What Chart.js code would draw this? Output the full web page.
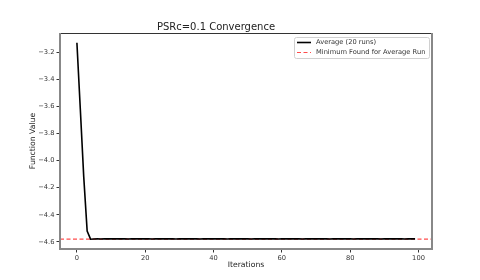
<!DOCTYPE html>
<html>
<head>
<meta charset="utf-8">
<script src="https://cdn.jsdelivr.net/npm/chart.js@4/dist/chart.umd.min.js"></script>
<style>
    html, body { margin: 0; padding: 0; background: #fff; }
    #wrap { width: 480px; height: 280px; }
</style>
</head>
<body>
<div id="wrap"><canvas id="convChart" width="480" height="280"></canvas></div>
<script>
// average function value per iteration (20 runs)
const averageValues = [
    -3.13, -3.62, -4.12, -4.52, -4.580, -4.579, -4.578, -4.579, -4.578, -4.578,
    -4.577, -4.578, -4.577, -4.578, -4.578, -4.579, -4.578, -4.578, -4.577, -4.578,
    -4.578, -4.578, -4.579, -4.578, -4.578, -4.577, -4.578, -4.578, -4.578, -4.579,
    -4.578, -4.578, -4.578, -4.577, -4.578, -4.578, -4.579, -4.578, -4.578, -4.578,
    -4.577, -4.578, -4.578, -4.578, -4.579, -4.578, -4.578, -4.577, -4.578, -4.578,
    -4.578, -4.579, -4.578, -4.578, -4.578, -4.577, -4.578, -4.578, -4.578, -4.579,
    -4.578, -4.578, -4.577, -4.578, -4.578, -4.578, -4.579, -4.578, -4.578, -4.578,
    -4.577, -4.578, -4.578, -4.578, -4.579, -4.578, -4.578, -4.577, -4.578, -4.578,
    -4.578, -4.579, -4.578, -4.578, -4.578, -4.577, -4.578, -4.578, -4.578, -4.579,
    -4.578, -4.578, -4.577, -4.578, -4.578, -4.578, -4.579, -4.578, -4.578, -4.578
];
const iterations = averageValues.map((_, i) => i);
const xTicks = [0, 20, 40, 60, 80, 100];
const yTicks = [-4.6, -4.4, -4.2, -4.0, -3.8, -3.6, -3.4, -3.2];
const xMin = -4.95, xMax = 103.95;
const yMin = -4.6525, yMax = -3.0575;

const minFound = Math.min(...averageValues);
const fontFamily = '"DejaVu Sans", sans-serif';

// matplotlib-ish frame and boxed legend
const framePlugin = {
    id: 'frame',
    afterDatasetsDraw(chart) {
        const { ctx, chartArea: a } = chart;
        ctx.save();
        ctx.lineWidth = 1;
        ctx.strokeStyle = '#333';
        ctx.beginPath();
        ctx.moveTo(a.left, a.top + 0.5);
        ctx.lineTo(a.right, a.top + 0.5);
        ctx.stroke();
        ctx.strokeStyle = '#888';
        ctx.lineWidth = 2;
        ctx.beginPath();
        ctx.moveTo(a.left, a.top);
        ctx.lineTo(a.left, a.bottom);
        ctx.lineTo(a.right, a.bottom);
        ctx.lineTo(a.right, a.top);
        ctx.stroke();

        // legend
        const bx = 294, by = 37, bw = 135, bh = 21;
        ctx.fillStyle = 'rgba(255,255,255,0.85)';
        ctx.strokeStyle = '#d0d0d0';
        ctx.lineWidth = 1;
        ctx.beginPath();
        ctx.roundRect(bx + 0.5, by + 0.5, bw, bh, 2);
        ctx.fill();
        ctx.stroke();
        ctx.font = '6.7px ' + fontFamily;
        ctx.textBaseline = 'middle';
        chart.data.datasets.forEach((ds, i) => {
            const yy = by + 5.5 + i * 10;
            ctx.strokeStyle = ds.borderColor;
            ctx.lineWidth = ds.borderWidth;
            ctx.setLineDash(ds.borderDash || []);
            ctx.beginPath();
            ctx.moveTo(bx + 3, yy);
            ctx.lineTo(bx + 17, yy);
            ctx.stroke();
            ctx.setLineDash([]);
            ctx.fillStyle = '#333';
            ctx.fillText(ds.label, bx + 22, yy);
        });
        ctx.restore();
    }
};

const ctx = document.getElementById('convChart').getContext('2d');
new Chart(ctx, {
    type: 'line',
    data: {
        datasets: [
            {
                label: 'Average (20 runs)',
                data: iterations.map((x, i) => ({ x: x, y: averageValues[i] })),
                borderColor: '#000',
                borderWidth: 1.6,
                pointRadius: 0,
                tension: 0
            },
            {
                label: 'Minimum Found for Average Run',
                data: [{ x: xMin, y: minFound }, { x: xMax, y: minFound }],
                borderColor: 'rgba(255,0,0,0.7)',
                borderWidth: 1.2,
                borderDash: [4, 2.5],
                pointRadius: 0
            }
        ]
    },
    options: {
        responsive: false,
        animation: false,
        layout: { padding: { left: 0, right: 48, top: 0, bottom: 0 } },
        plugins: {
            legend: { display: false },
            tooltip: { enabled: false },
            title: {
                display: true,
                text: 'PSRc=0.1 Convergence',
                color: '#222',
                font: { family: fontFamily, size: 10, weight: 'normal', lineHeight: 1.2 },
                padding: { top: 21, bottom: 0 }
            }
        },
        scales: {
            x: {
                type: 'linear',
                min: xMin,
                max: xMax,
                afterBuildTicks: scale => { scale.ticks = xTicks.map(v => ({ value: v })); },
                afterFit: scale => { scale.height = 31; },
                grid: { display: true, drawOnChartArea: false, drawTicks: true, tickLength: 3.5, tickColor: '#333' },
                border: { display: false },
                ticks: {
                    color: '#333',
                    padding: 2,
                    maxRotation: 0,
                    font: { family: fontFamily, size: 6.7 },
                    callback: v => String(v)
                },
                title: {
                    display: true,
                    text: 'Iterations',
                    color: '#222',
                    font: { family: fontFamily, size: 7.7 },
                    padding: { top: 1, bottom: 10 }
                }
            },
            y: {
                type: 'linear',
                min: yMin,
                max: yMax,
                afterBuildTicks: scale => { scale.ticks = yTicks.map(v => ({ value: v })); },
                afterFit: scale => { scale.width = 60; },
                grid: { display: true, drawOnChartArea: false, drawTicks: true, tickLength: 3.5, tickColor: '#333' },
                border: { display: false },
                ticks: {
                    color: '#333',
                    padding: 2,
                    font: { family: fontFamily, size: 6.7 },
                    callback: v => (v < 0 ? '\u2212' : '') + Math.abs(v).toFixed(1)
                },
                title: {
                    display: true,
                    text: 'Function Value',
                    color: '#222',
                    font: { family: fontFamily, size: 7.7 },
                    padding: { top: 28, bottom: 0 }
                }
            }
        }
    },
    plugins: [framePlugin]
});
</script>
</body>
</html>
